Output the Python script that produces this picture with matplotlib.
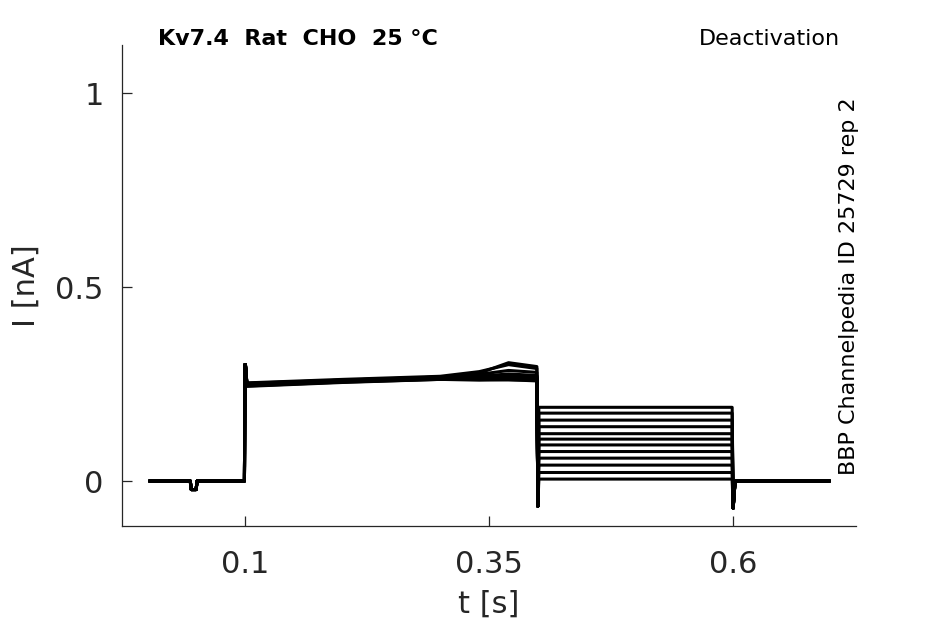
import matplotlib
matplotlib.use("Agg")
import matplotlib.pyplot as plt
import numpy as np

plt.rcParams['font.family'] = ['DejaVu Sans']

# ---- data ----
# key time points of the protocol (s)
t_start, t_dip0, t_dip1, t_on, t_off, t_deact_end, t_end = 0.003, 0.044, 0.051, 0.1, 0.4, 0.6, 0.698
dip_level = -0.022
onset_peak = 0.30
off_spike = -0.065
end_spike = -0.07
# activation plateau per sweep at these times
act_t = [0.102, 0.2, 0.3, 0.34, 0.37, 0.399]
act_vals = [
    [0.250, 0.258, 0.265, 0.264, 0.266, 0.262],
    [0.245, 0.255, 0.262, 0.262, 0.261, 0.260],
    [0.248, 0.257, 0.266, 0.267, 0.270, 0.268],
    [0.252, 0.260, 0.268, 0.272, 0.268, 0.270],
    [0.246, 0.256, 0.264, 0.263, 0.265, 0.265],
    [0.250, 0.259, 0.267, 0.275, 0.285, 0.280],
    [0.247, 0.256, 0.263, 0.264, 0.262, 0.262],
    [0.253, 0.262, 0.270, 0.282, 0.300, 0.290],
    [0.249, 0.258, 0.266, 0.278, 0.305, 0.295],
    [0.244, 0.254, 0.262, 0.260, 0.261, 0.258],
    [0.251, 0.260, 0.268, 0.270, 0.276, 0.272],
    [0.248, 0.257, 0.265, 0.266, 0.264, 0.264],
]
# deactivation plateau per sweep (nA)
deact_levels = [0.190, 0.175, 0.157, 0.140, 0.122, 0.108, 0.093, 0.076, 0.059, 0.041, 0.022, 0.005]

xticks = [0.1, 0.35, 0.6]
xticklabels = ["0.1", "0.35", "0.6"]
yticks = [0, 0.5, 1]
yticklabels = ["0", "0.5", "1"]

txt = '#262626'
fig = plt.figure(figsize=(9.45, 6.24), dpi=100)
ax = fig.add_axes([0.129, 0.157, 0.777, 0.771])

for av, dl in zip(act_vals, deact_levels):
    t = [t_start, t_dip0, t_dip0 + 0.001, t_dip1 - 0.001, t_dip1, t_on - 0.0005, t_on, t_on + 0.0005]
    y = [0, 0, dip_level, dip_level, 0, 0, onset_peak, onset_peak]
    t += act_t
    y += av
    t += [t_off, t_off + 0.001, t_deact_end - 0.001, t_deact_end, t_deact_end + 0.002, t_end]
    y += [off_spike, dl, dl, end_spike, 0, 0]
    ax.plot(t, y, color='black', lw=2.2, solid_joinstyle='round')

ax.set_xlim(-0.026, 0.726)
ax.set_ylim(-0.116, 1.124)
ax.set_xticks(xticks)
ax.set_xticklabels(xticklabels)
ax.set_yticks(yticks)
ax.set_yticklabels(yticklabels)
ax.tick_params(direction='in', length=7, width=0.9, labelsize=22, colors=txt)
ax.tick_params(axis='x', pad=17)
ax.tick_params(axis='y', pad=13)
for s in ['top', 'right']:
    ax.spines[s].set_visible(False)
for s in ['left', 'bottom']:
    ax.spines[s].set_color(txt)
    ax.spines[s].set_linewidth(0.9)

ax.set_xlabel('t [s]', fontsize=22, color=txt, labelpad=8)
ax.set_ylabel('I [nA]', fontsize=22, color=txt, labelpad=11)

fig.text(158/945, 1 - 39/624, 'Kv7.4  Rat  CHO  25 °C', fontsize=16, fontweight='bold',
         color='black', ha='left', va='center')
fig.text(840/945, 1 - 39/624, 'Deactivation', fontsize=16, color='black', ha='right', va='center')
fig.text(849/945, 1 - 286/624, 'BBP Channelpedia ID 25729 rep 2', fontsize=16, color='black',
         rotation=90, ha='center', va='center')

fig.savefig('out.png', dpi=100)
